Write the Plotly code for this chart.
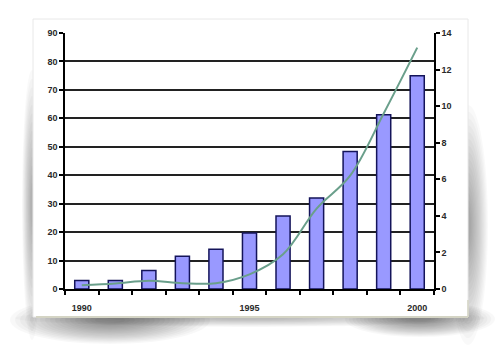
import plotly.graph_objects as go

years = [1990, 1991, 1992, 1993, 1994, 1995, 1996, 1997, 1998, 1999, 2000]
bar_values = [3, 3, 6.5, 11.5, 14, 19.7, 25.7, 32, 48.3, 61.3, 75]
line_values = [0.2, 0.3, 0.45, 0.32, 0.32, 0.8, 1.9, 4.4, 6.2, 9.6, 13.2]
x_labels = ["1990", "1995", "2000"]
x_label_pos = [1990, 1995, 2000]

W, H = 500, 355
L, R, T, B = 65, 434, 33, 289


def px(x):
    return (x - L) / (R - L)


def py(y):
    return (B - y) / (B - T)


shapes = []


def soft_ellipse(cx, cy, rx, ry, n=16, op=0.025):
    for i in range(n):
        f = 1.0 - i * (0.9 / n)
        shapes.append(dict(type="circle", xref="paper", yref="paper",
                           x0=px(cx - rx * f), x1=px(cx + rx * f),
                           y0=py(cy + ry * f), y1=py(cy - ry * f),
                           fillcolor="black", opacity=op, line=dict(width=0),
                           layer="below"))


# curled-paper shadow
soft_ellipse(250, 318, 235, 9, n=14, op=0.02)
soft_ellipse(110, 320, 100, 24, n=18, op=0.028)
soft_ellipse(420, 319, 75, 18, n=18, op=0.028)
soft_ellipse(468, 225, 20, 120, n=16, op=0.022)
soft_ellipse(32, 205, 10, 135, n=14, op=0.022)

# card
shapes.append(dict(type="rect", xref="paper", yref="paper",
                   x0=px(33), x1=px(468), y0=py(317), y1=py(19),
                   fillcolor="white", line=dict(color="#e8e8e8", width=1),
                   layer="below"))
shapes.append(dict(type="line", xref="paper", yref="paper",
                   x0=px(36), x1=px(468), y0=py(317), y1=py(317),
                   line=dict(color="#d4d4c4", width=2), layer="below"))
shapes.append(dict(type="line", xref="paper", yref="paper",
                   x0=px(468), x1=px(468), y0=py(300), y1=py(317),
                   line=dict(color="#d4d4c4", width=1.5), layer="below"))

tickfont = dict(family="Liberation Sans, Arial", size=9, color="#2a2a2a", weight="bold")

fig = go.Figure()
fig.add_trace(go.Bar(x=years, y=bar_values, width=0.42,
                     marker=dict(color="#9999ff", line=dict(color="#14145a", width=1.5)),
                     showlegend=False))
fig.add_trace(go.Scatter(x=years, y=line_values, yaxis="y2", mode="lines",
                         line=dict(color="#6a9f8b", width=2, shape="spline", smoothing=1.0),
                         showlegend=False))

fig.update_layout(
    width=W, height=H,
    margin=dict(l=L, r=W - R, t=T, b=H - B),
    paper_bgcolor="white",
    plot_bgcolor="rgba(0,0,0,0)",
    shapes=shapes,
    xaxis=dict(range=[1989.5, 2000.5], tickmode="array", tickvals=x_label_pos,
               ticktext=x_labels, ticks="outside", ticklen=0, tickfont=tickfont,
               ticklabelstandoff=9,
               showgrid=False, zeroline=False, showline=True, linecolor="black", linewidth=1.5,
               minor=dict(tick0=1989.5, dtick=1, ticks="outside", ticklen=4,
                          tickcolor="black", tickwidth=1.5, showgrid=False)),
    yaxis=dict(range=[0, 90], dtick=10, ticks="outside", ticklen=4, tickcolor="black",
               tickwidth=1.5, tickfont=tickfont, showgrid=True, gridcolor="#222222",
               gridwidth=1.5, zeroline=False, showline=True, linecolor="black", linewidth=1.5),
    yaxis2=dict(range=[0, 14], dtick=2, overlaying="y", side="right", anchor="x",
                ticks="outside", ticklen=4, tickcolor="black", tickwidth=1.5,
                tickfont=tickfont, showgrid=False, zeroline=False, showline=True,
                linecolor="black", linewidth=1.5),
    bargap=0.5,
)

fig.write_html("out.html")
